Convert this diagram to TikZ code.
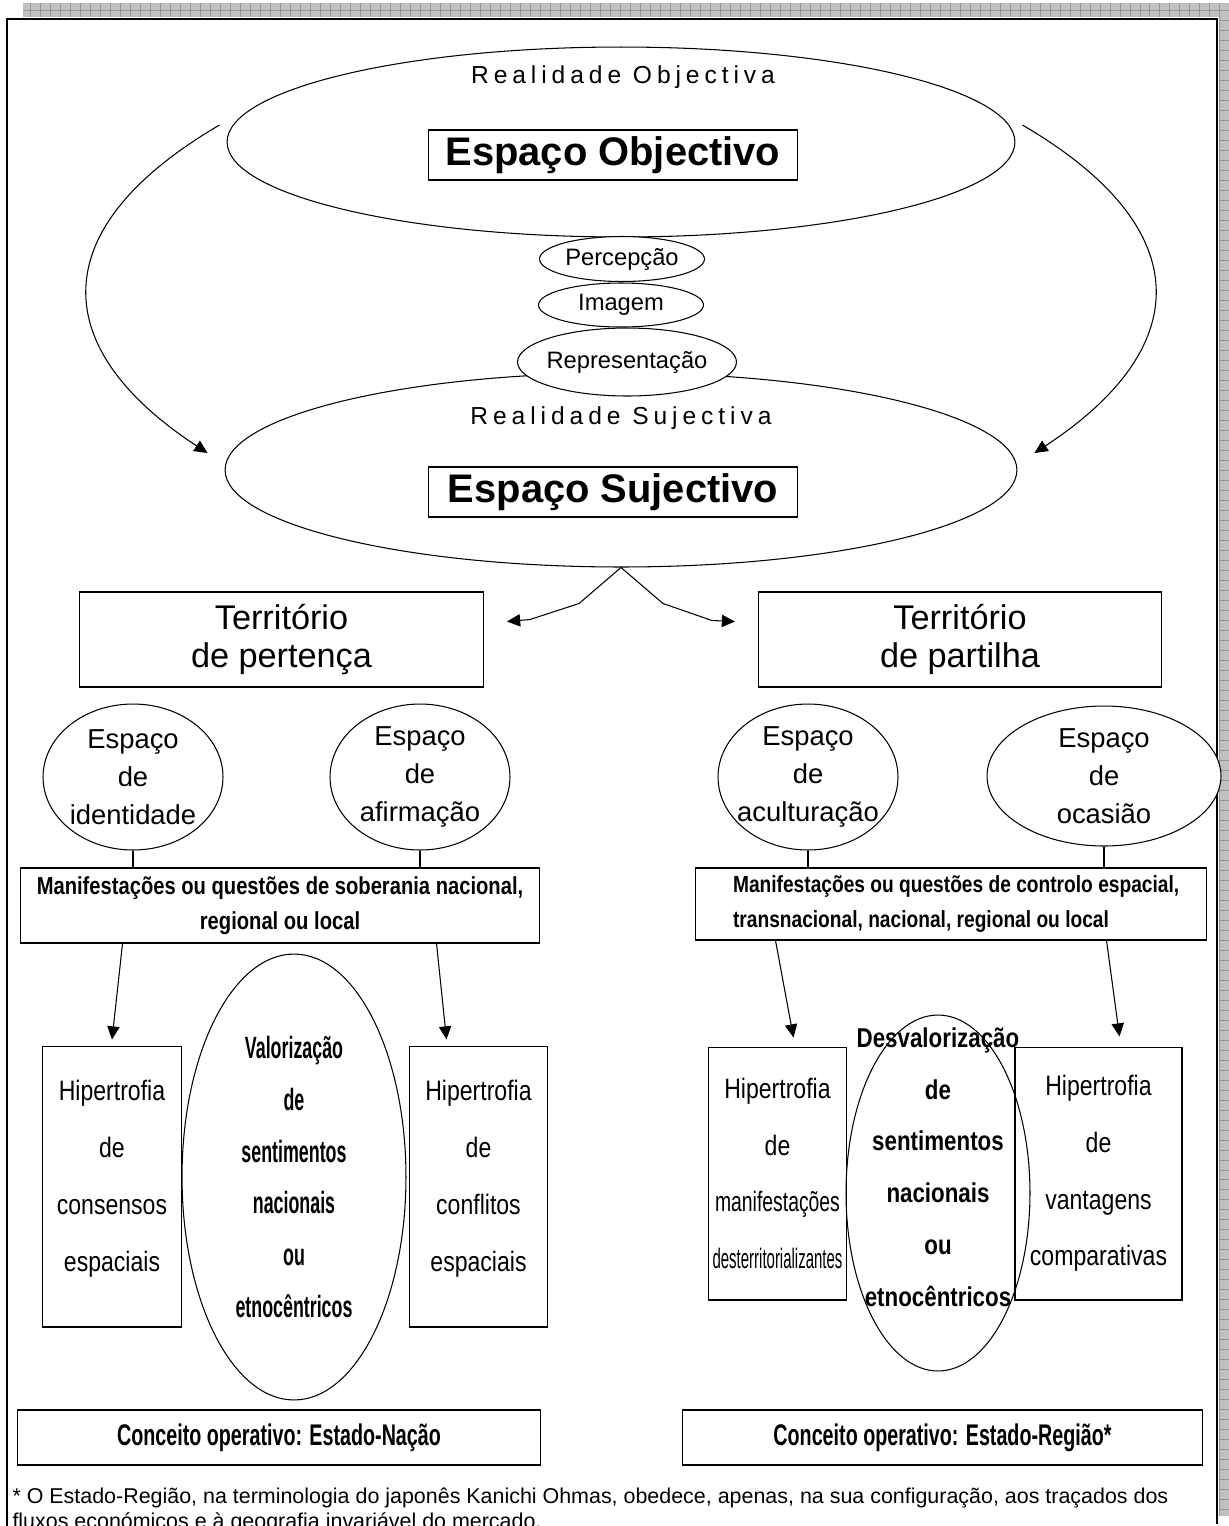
\documentclass[tikz,border=0pt]{standalone}
\usepackage{fontspec}
\setmainfont{Liberation Sans}
\newfontfamily\condfont[FakeStretch=0.82]{Liberation Sans}
\newfontfamily\tallfont[FakeStretch=0.66]{Liberation Sans}
\newfontfamily\slimfont[FakeStretch=0.58]{Liberation Sans}
\newfontfamily\spacedfont[LetterSpace=20]{Liberation Sans}
\usetikzlibrary{shapes.geometric,arrows.meta,positioning,calc}
\definecolor{stripfill}{RGB}{192,192,192}
\definecolor{stripline}{RGB}{150,150,150}

\begin{document}
\begin{tikzpicture}[x=0.02cm, y=-0.02cm, line width=0.6pt, >={Triangle[length=7.5pt,width=7pt]},
	oval/.style={draw, ellipse, inner sep=0pt, fill=white},
	box/.style={draw, rectangle, inner sep=0pt, align=center},
	reality/.style={font=\spacedfont\fontsize{14}{16}\selectfont},
	spacebox/.style={box, minimum width=7.4cm, minimum height=1cm, font=\bfseries\fontsize{22.7}{26}\selectfont},
	stage/.style={oval, minimum width=3.3cm, minimum height=0.9cm},
	stagetext/.style={font=\fontsize{13.5}{15}\selectfont},
	terrbox/.style={box, minimum width=8.07cm, minimum height=1.9cm, font=\fontsize{19.5}{22}\selectfont},
	spaceoval/.style={oval, minimum width=3.6cm, minimum height=2.92cm},
	spacetext/.style={align=center, font=\fontsize{15.6}{21.5}\selectfont},
	manbox/.style={box, font=\condfont\bfseries\fontsize{14}{20}\selectfont},
	mantext/.style={align=left, inner sep=0pt, font=\condfont\bfseries\fontsize{13.3}{20}\selectfont},
	hipbox/.style={box, minimum width=2.77cm, font=\condfont\fontsize{16}{32.3}\selectfont},
	feeloval/.style={draw, ellipse, inner sep=0pt},
	feeltext/.style={align=center, font=\condfont\bfseries\fontsize{15.5}{29.5}\selectfont},
	conbox/.style={box, minimum height=1.1cm, font=\tallfont\bfseries\fontsize{17}{19}\selectfont}
]
\useasboundingbox (0,0) rectangle (1229,1526);
\clip (0,0) rectangle (1229,1526);

\fill[stripfill] (23,3) rectangle (1229,17);
\fill[stripfill] (1219,17) rectangle (1229,1516);
\draw[stripline, line width=0.3pt, step=0.2cm] (23,3) grid (1229,17);
\draw[stripline, line width=0.3pt, step=0.2cm] (1219,17) grid (1229,1516);
\draw[line width=1.3pt] (7,1540) |- (1217,19) -- (1217,1524);

\node[oval, minimum width=15.76cm, minimum height=3.8cm] (objEll) at (621,142) {};
\node[reality] (objLbl) at (623,77) {Realidade Objectiva};
\node[spacebox] (objBox) at (613,155) {Espaço Objectivo};

\node[oval, minimum width=15.84cm, minimum height=3.88cm] (subEll) at (621,470) {};
\node[reality] (subLbl) at (621,418) {Realidade Sujectiva};
\node[spacebox] (subBox) at (613,492) {Espaço Sujectivo};

\node[stage] (perc) at (622,259) {};
\node[stagetext] (percTxt) at (perc) {Percepção};
\node[stage, minimum height=0.88cm] (imag) at (621,305) {};
\node[stagetext] (imagTxt) at (imag) {Imagem};
\node[stage, minimum width=4.38cm, minimum height=1.36cm] (repr) at (627,362) {};
\node[stagetext] (reprTxt) at (repr) {Representação};

\draw[->] ($(objEll.west)+(-7,-17)$) .. controls (40,230) and (50,350) .. ($(subEll.west)+(-17,-17)$);
\draw[->] ($(objEll.east)+(7,-17)$) .. controls (1202,230) and (1192,350) .. ($(subEll.east)+(17,-17)$);

\node[terrbox] (terrL) at (281.5,639.5) {Território\\de pertença};
\node[terrbox] (terrR) at (960,639.5) {Território\\de partilha};
\draw[->] (subEll.south) -- ++(-42,36) -- ++(-49,16) -- ++(-23,2);
\draw[->] (subEll.south) -- ++(42,36) -- ++(49,17) -- ++(23,1);

\node[spaceoval] (idEll) at (133,777) {};
\node[spacetext] (idTxt) at (idEll) {Espaço\\de\\identidade};
\node[spaceoval] (afEll) at (420,777) {};
\node[spacetext] (afTxt) at (afEll) {Espaço\\de\\afirmação};
\node[spaceoval] (acEll) at (808,777) {};
\node[spacetext] (acTxt) at (acEll) {Espaço\\de\\aculturação};
\node[spaceoval, minimum width=4.68cm, minimum height=2.8cm] (ocEll) at (1104,776) {};
\node[spacetext] (ocTxt) at (ocEll) {Espaço\\de\\ocasião};

\node[manbox, minimum width=10.4cm, minimum height=1.5cm] (manL) at (280,905.5) {Manifestações ou questões de soberania nacional,\\regional ou local};
\node[manbox, minimum width=10.24cm, minimum height=1.44cm] (manR) at (951,904) {};
\node[mantext, anchor=west] (manRTxt) at ($(manR.west)+(38,0)$) {Manifestações ou questões de controlo espacial,\\transnacional, nacional, regional ou local};

\draw (idEll.south) -- (idEll.south |- manL.north);
\draw (afEll.south) -- (afEll.south |- manL.north);
\draw (acEll.south) -- (acEll.south |- manR.north);
\draw (ocEll.south) -- (ocEll.south |- manR.north);

\node[hipbox, minimum height=5.62cm] (hipA) at (112,1186.5) {Hipertrofia\\de\\consensos\\espaciais\\[-20pt]};
\node[hipbox, minimum height=5.62cm] (hipB) at (478.5,1186.5) {Hipertrofia\\de\\conflitos\\espaciais\\[-20pt]};
\node[hipbox, minimum height=5.06cm] (hipC) at (777.5,1173.5) {Hipertrofia\\de\\\scalebox{0.84}[1]{manifestações}\\\scalebox{0.65}[1]{desterritorializantes}};
\node[hipbox, minimum width=3.34cm, minimum height=5.06cm] (hipD) at (1098.5,1173.5) {Hipertrofia\\de\\vantagens\\comparativas};

\draw[->] ($(manL.south west)+(103,0)$) -- ($(hipA.north)+(0,-6)$);
\draw[->] ($(manL.south west)+(417,0)$) -- ($(hipB.north)+(-32,-6)$);
\draw[->] ($(manR.south west)+(81,0)$) -- ($(hipC.north)+(16,-9)$);
\draw[->] ($(manR.south west)+(412,0)$) -- ($(hipD.north)+(21,-10)$);

\node[feeloval, minimum width=4.48cm, minimum height=8.92cm] (valEll) at (294,1177) {};
\node[feeltext, font=\slimfont\bfseries\fontsize{17.5}{29.5}\selectfont] (valTxt) at (valEll) {Valorização\\de\\sentimentos\\nacionais\\ou\\etnocêntricos};
\node[feeloval, minimum width=3.68cm, minimum height=7.12cm] (desEll) at (938,1193) {};
\node[feeltext] (desTxt) at ($(desEll)+(0,-26)$) {Desvalorização\\de\\sentimentos\\nacionais\\ou\\etnocêntricos};

\node[conbox, minimum width=10.48cm] (conL) at (279,1437.5) {Conceito operativo: Estado-Nação};
\node[conbox, minimum width=10.42cm] (conR) at (942.5,1437.5) {Conceito operativo: Estado-Região*};

\node[anchor=north west, align=left, inner sep=0pt, font=\fontsize{12.2}{14.7}\selectfont] (note) at (12,1487) {* O Estado-Região, na terminologia do japonês Kanichi Ohmas, obedece, apenas, na sua configuração, aos traçados dos\\fluxos económicos e à geografia invariável do mercado.};
\end{tikzpicture}
\end{document}
